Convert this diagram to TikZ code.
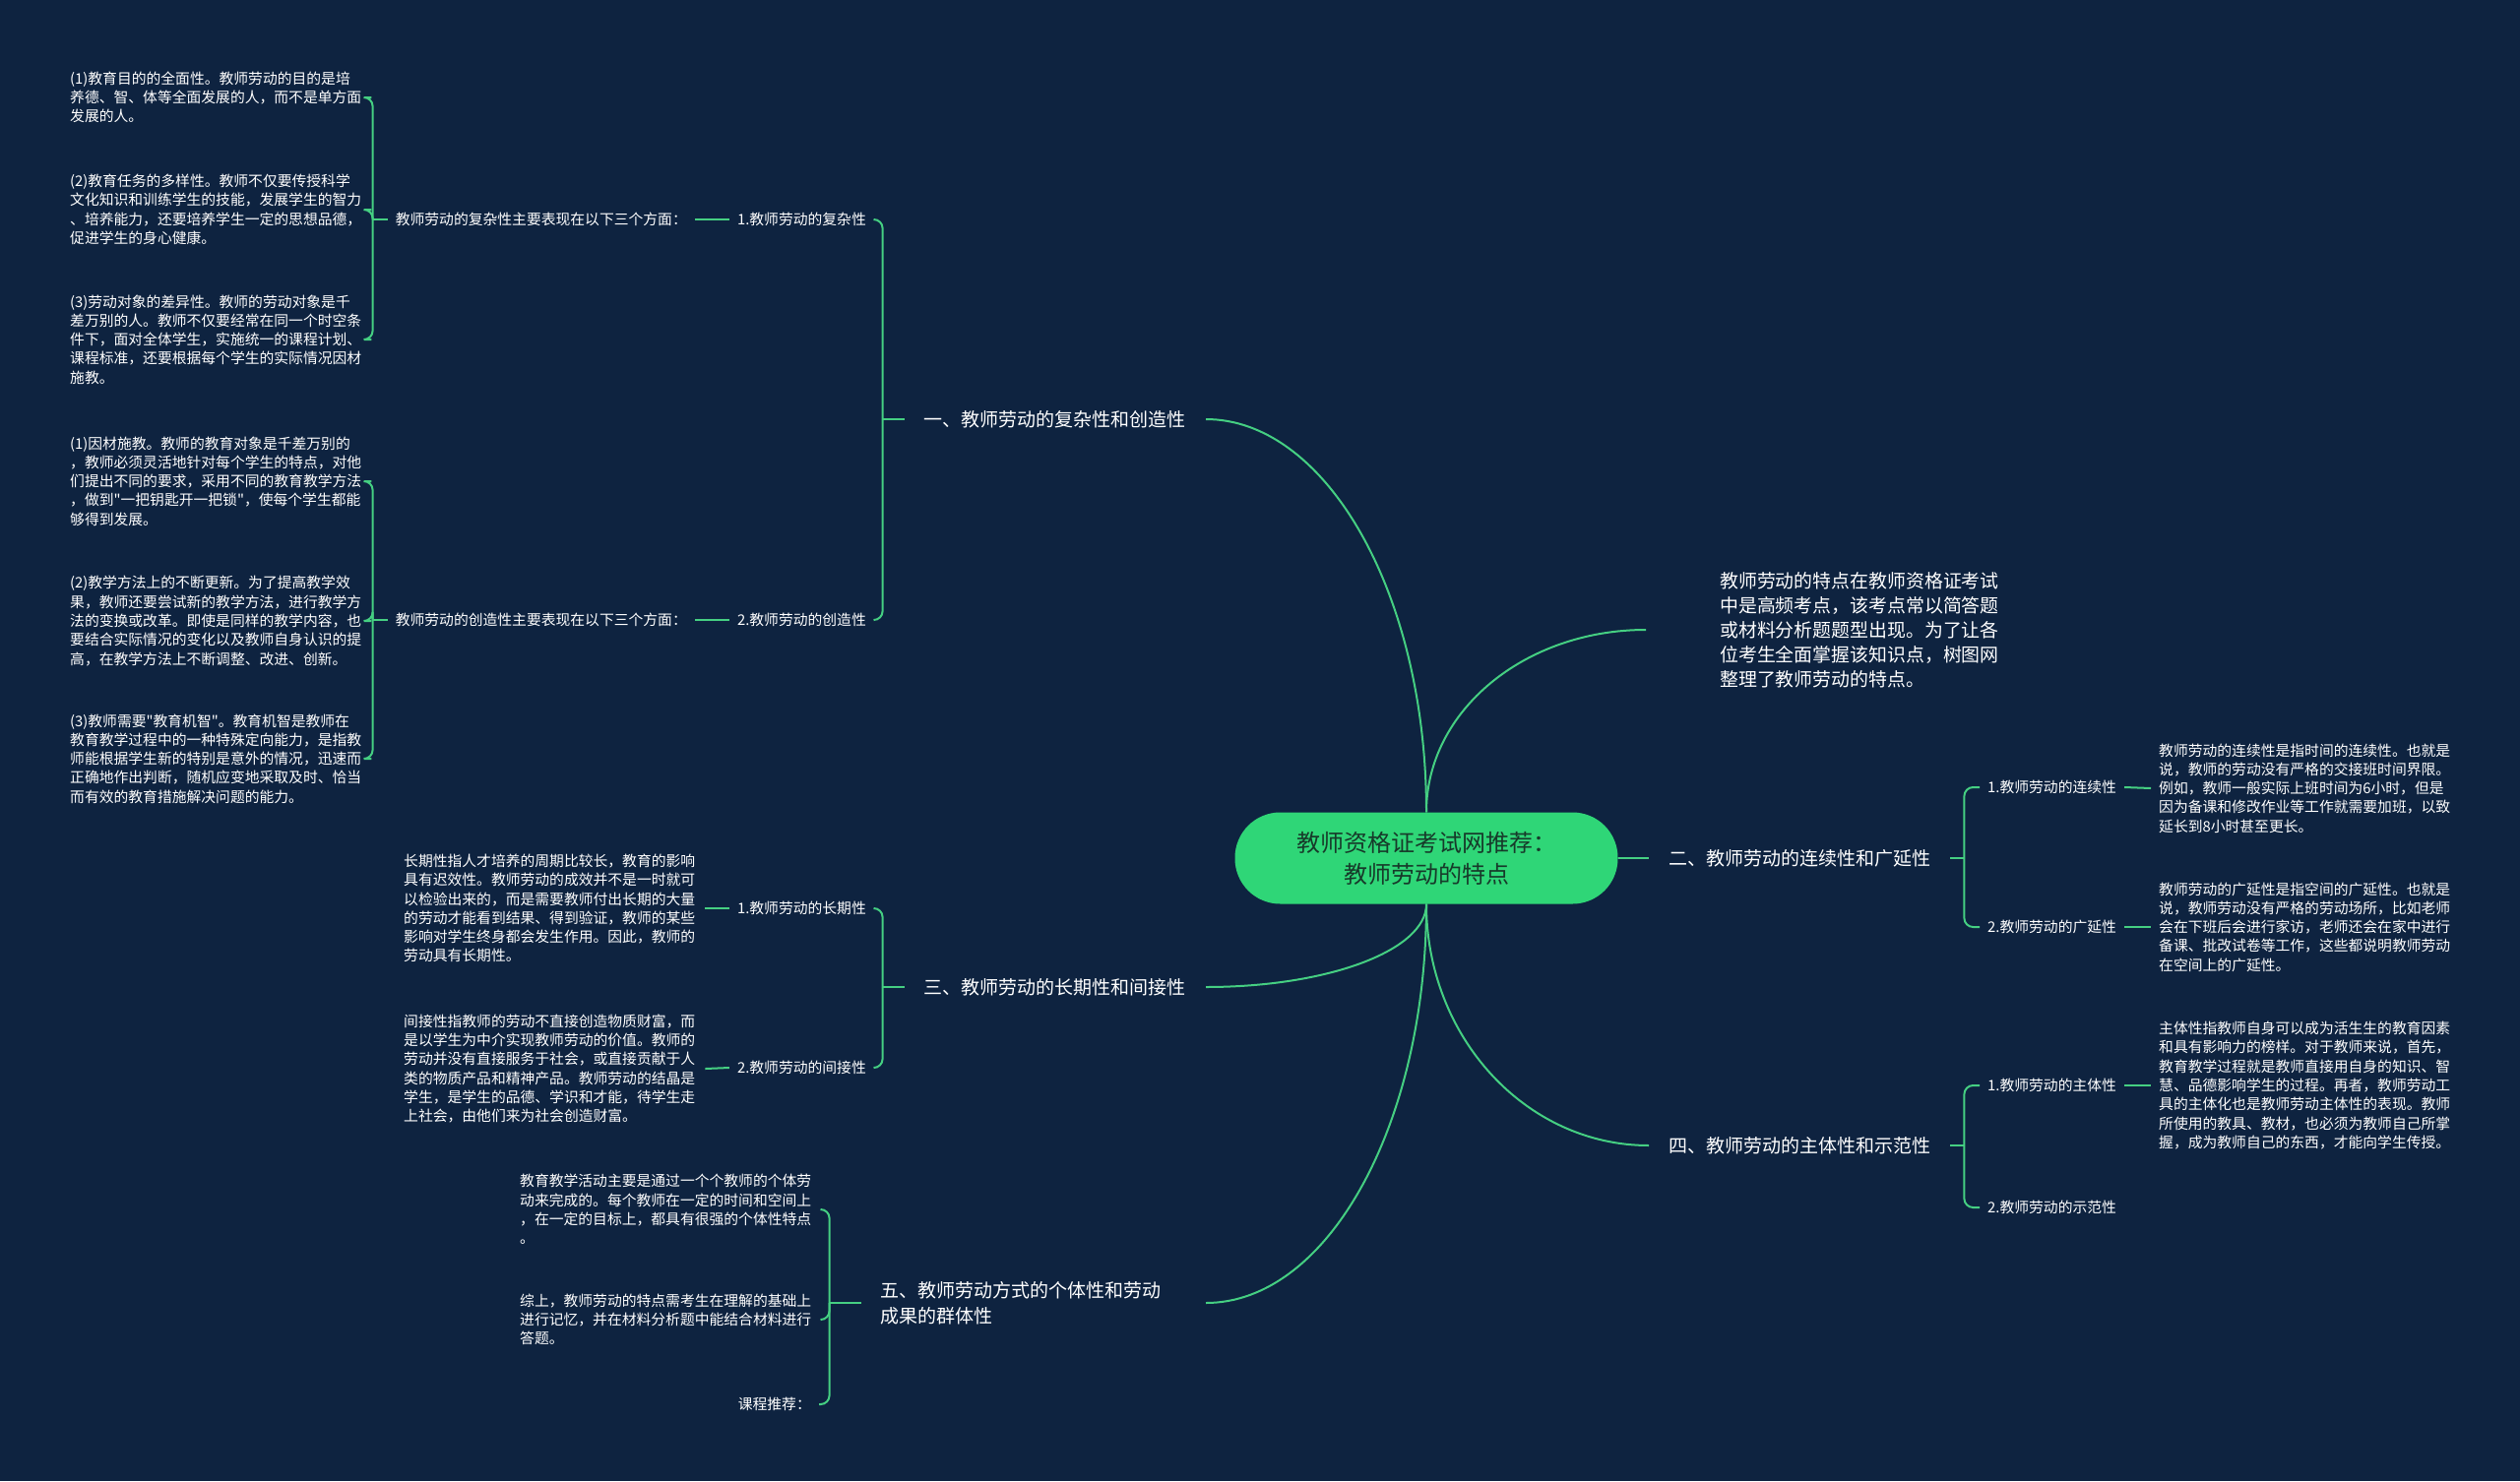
\documentclass[tikz,border=0pt]{standalone}
\usepackage{fontspec}
\setmainfont{Noto Sans CJK SC}[Ligatures=TeXOff]
\usepackage{xcolor}
\usetikzlibrary{calc}
\definecolor{navybg}{HTML}{0E2340}
\definecolor{linegreen}{HTML}{45CF82}
\definecolor{pillgreen}{HTML}{2FD677}
\definecolor{pillink}{HTML}{173A2A}
\tikzset{
  rootpill/.style={fill=pillgreen,rounded corners=46pt,
                   minimum width=389pt,minimum height=93pt,inner sep=0pt,
                   align=center,text=pillink,font=\fontsize{24pt}{32pt}\selectfont},
  branchlabel/.style={text=white,align=left,inner xsep=20pt,inner ysep=4pt,
                      font=\fontsize{19pt}{26pt}\selectfont},
  itemlabel/.style={text=white,inner xsep=8pt,inner ysep=3pt,
                    font=\fontsize{14.8pt}{19.3pt}\selectfont},
  leafnote/.style={text=white,align=left,text width=298pt,inner xsep=8pt,inner ysep=3pt,
                   font=\fontsize{14.8pt}{19.3pt}\selectfont},
  mainarc/.style={draw=linegreen,line width=2pt},
  braceline/.style={draw=linegreen,line width=2pt,rounded corners=9pt},
  linkline/.style={draw=linegreen,line width=2pt}
}

\begin{document}
\begin{tikzpicture}[x=1pt,y=-1pt]
  \useasboundingbox (0,0) rectangle (2560,1505);
  \fill[navybg] (0,0) rectangle (2560,1505);

  % centre
  \node[rootpill] (root) at (1449,872) {教师资格证考试网推荐：\\教师劳动的特点};

  % main branches
  \node[branchlabel,anchor=east] (b1) at (1225,426) {一、教师劳动的复杂性和创造性};
  \node[branchlabel,anchor=west] (b2) at (1675,872) {二、教师劳动的连续性和广延性};
  \node[branchlabel,anchor=east] (b3) at (1225,1003) {三、教师劳动的长期性和间接性};
  \node[branchlabel,anchor=west] (b4) at (1675,1164) {四、教师劳动的主体性和示范性};
  \node[branchlabel,anchor=east,text width=310pt] (b5) at (1225,1324) {五、教师劳动方式的个体性和劳动\\成果的群体性};
  \node[leafnote,anchor=west,text width=288pt,font=\fontsize{18.9pt}{25pt}\selectfont] (intro) at (1739,640)
    {教师劳动的特点在教师资格证考试\\中是高频考点，该考点常以简答题\\或材料分析题题型出现。为了让各\\位考生全面掌握该知识点，树图网\\整理了教师劳动的特点。};

  \draw[mainarc] (root.north) .. controls +(0,-222) and +(122,0) .. (b1.east);
  \draw[mainarc] (root.north) .. controls +(0,-103) and +(-123,0) .. ([xshift=-67pt]intro.west);
  \draw[mainarc] (root.east) -- (b2.west);
  \draw[mainarc] (root.south) .. controls +(0,47) and +(124,0) .. (b3.east);
  \draw[mainarc] (root.south) .. controls +(0,135) and +(-125,0) .. (b4.west);
  \draw[mainarc] (root.south) .. controls +(0,224) and +(124,0) .. (b5.east);

  % branch one
  \node[itemlabel,anchor=east] (s1) at (888,223) {1.教师劳动的复杂性};
  \node[itemlabel,anchor=east] (s2) at (888,630) {2.教师劳动的创造性};
  \node[itemlabel,anchor=east] (m1) at (706,223) {教师劳动的复杂性主要表现在以下三个方面：};
  \node[itemlabel,anchor=east] (m2) at (706,630) {教师劳动的创造性主要表现在以下三个方面：};
  \node[leafnote,anchor=west] (l1a) at (63,99)
    {(1)教育目的的全面性。教师劳动的目的是培\\养德、智、体等全面发展的人，而不是单方面\\发展的人。};
  \node[leafnote,anchor=west] (l1b) at (63,213)
    {(2)教育任务的多样性。教师不仅要传授科学\\文化知识和训练学生的技能，发展学生的智力\\、培养能力，还要培养学生一定的思想品德，\\促进学生的身心健康。};
  \node[leafnote,anchor=west] (l1c) at (63,345)
    {(3)劳动对象的差异性。教师的劳动对象是千\\差万别的人。教师不仅要经常在同一个时空条\\件下，面对全体学生，实施统一的课程计划、\\课程标准，还要根据每个学生的实际情况因材\\施教。};
  \node[leafnote,anchor=west] (l2a) at (63,489)
    {(1)因材施教。教师的教育对象是千差万别的\\，教师必须灵活地针对每个学生的特点，对他\\们提出不同的要求，采用不同的教育教学方法\\，做到"一把钥匙开一把锁"，使每个学生都能\\够得到发展。};
  \node[leafnote,anchor=west] (l2b) at (63,631)
    {(2)教学方法上的不断更新。为了提高教学效\\果，教师还要尝试新的教学方法，进行教学方\\法的变换或改革。即使是同样的教学内容，也\\要结合实际情况的变化以及教师自身认识的提\\高，在教学方法上不断调整、改进、创新。};
  \node[leafnote,anchor=west] (l2c) at (63,771)
    {(3)教师需要"教育机智"。教育机智是教师在\\教育教学过程中的一种特殊定向能力，是指教\\师能根据学生新的特别是意外的情况，迅速而\\正确地作出判断，随机应变地采取及时、恰当\\而有效的教育措施解决问题的能力。};

  \draw[linkline] (b1.west) -- ++(-22,0) coordinate (k1);
  \draw[braceline] (k1) |- (s1.east);
  \draw[braceline] (k1) |- (s2.east);
  \draw[linkline] (m1.east) -- (s1.west);
  \draw[linkline] (m2.east) -- (s2.west);
  \draw[linkline] (m1.west) -- ++(-15,0) coordinate (k11);
  \draw[braceline] (k11) |- (l1a.east);
  \draw[braceline] (k11) |- (l1b.east);
  \draw[braceline] (k11) |- (l1c.east);
  \draw[linkline] (m2.west) -- ++(-15,0) coordinate (k12);
  \draw[braceline] (k12) |- (l2a.east);
  \draw[braceline] (k12) |- (l2b.east);
  \draw[braceline] (k12) |- (l2c.east);

  % branch three
  \node[itemlabel,anchor=east] (s3) at (888,923) {1.教师劳动的长期性};
  \node[itemlabel,anchor=east] (s4) at (888,1085) {2.教师劳动的间接性};
  \node[leafnote,anchor=west] (t1) at (402,923)
    {长期性指人才培养的周期比较长，教育的影响\\具有迟效性。教师劳动的成效并不是一时就可\\以检验出来的，而是需要教师付出长期的大量\\的劳动才能看到结果、得到验证，教师的某些\\影响对学生终身都会发生作用。因此，教师的\\劳动具有长期性。};
  \node[leafnote,anchor=west] (t2) at (402,1086)
    {间接性指教师的劳动不直接创造物质财富，而\\是以学生为中介实现教师劳动的价值。教师的\\劳动并没有直接服务于社会，或直接贡献于人\\类的物质产品和精神产品。教师劳动的结晶是\\学生，是学生的品德、学识和才能，待学生走\\上社会，由他们来为社会创造财富。};
  \draw[linkline] (b3.west) -- ++(-22,0) coordinate (k3);
  \draw[braceline] (k3) |- (s3.east);
  \draw[braceline] (k3) |- (s4.east);
  \draw[linkline] (t1.east) -- (s3.west);
  \draw[linkline] (t2.east) -- (s4.west);

  % branch five
  \node[leafnote,anchor=west] (f1) at (520,1229)
    {教育教学活动主要是通过一个个教师的个体劳\\动来完成的。每个教师在一定的时间和空间上\\，在一定的目标上，都具有很强的个体性特点\\。};
  \node[leafnote,anchor=west] (f2) at (520,1341)
    {综上，教师劳动的特点需考生在理解的基础上\\进行记忆，并在材料分析题中能结合材料进行\\答题。};
  \node[itemlabel,anchor=east] (f3) at (832,1427) {课程推荐：};
  \draw[linkline] (b5.west) -- ++(-32,0) coordinate (k5);
  \draw[braceline] (k5) |- (f1.east);
  \draw[braceline] (k5) |- (f2.east);
  \draw[braceline] (k5) |- (f3.east);

  % branch two
  \node[itemlabel,anchor=west] (s5) at (2011,800) {1.教师劳动的连续性};
  \node[itemlabel,anchor=west] (s6) at (2011,942) {2.教师劳动的广延性};
  \node[leafnote,anchor=west] (r1) at (2185,801)
    {教师劳动的连续性是指时间的连续性。也就是\\说，教师的劳动没有严格的交接班时间界限。\\例如，教师一般实际上班时间为6小时，但是\\因为备课和修改作业等工作就需要加班，以致\\延长到8小时甚至更长。};
  \node[leafnote,anchor=west] (r2) at (2185,942)
    {教师劳动的广延性是指空间的广延性。也就是\\说，教师劳动没有严格的劳动场所，比如老师\\会在下班后会进行家访，老师还会在家中进行\\备课、批改试卷等工作，这些都说明教师劳动\\在空间上的广延性。};
  \draw[linkline] (b2.east) -- ++(14,0) coordinate (k2);
  \draw[braceline] (k2) |- (s5.west);
  \draw[braceline] (k2) |- (s6.west);
  \draw[linkline] (s5.east) -- (r1.west);
  \draw[linkline] (s6.east) -- (r2.west);

  % branch four
  \node[itemlabel,anchor=west] (s7) at (2011,1103) {1.教师劳动的主体性};
  \node[itemlabel,anchor=west] (s8) at (2011,1227) {2.教师劳动的示范性};
  \node[leafnote,anchor=west] (q1) at (2185,1103)
    {主体性指教师自身可以成为活生生的教育因素\\和具有影响力的榜样。对于教师来说，首先，\\教育教学过程就是教师直接用自身的知识、智\\慧、品德影响学生的过程。再者，教师劳动工\\具的主体化也是教师劳动主体性的表现。教师\\所使用的教具、教材，也必须为教师自己所掌\\握，成为教师自己的东西，才能向学生传授。};
  \draw[linkline] (b4.east) -- ++(14,0) coordinate (k4);
  \draw[braceline] (k4) |- (s7.west);
  \draw[braceline] (k4) |- (s8.west);
  \draw[linkline] (s7.east) -- (q1.west);
\end{tikzpicture}
\end{document}
